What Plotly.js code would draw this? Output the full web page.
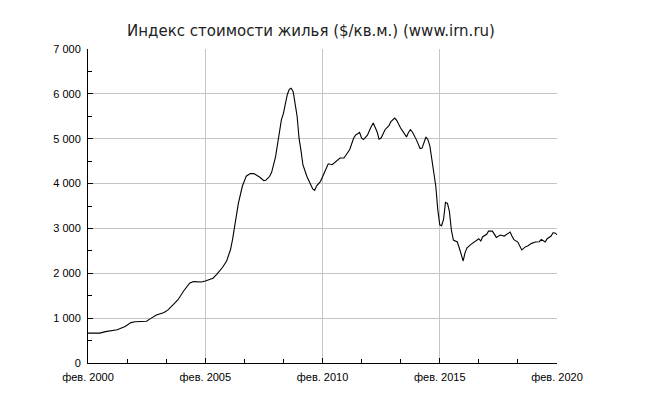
<!DOCTYPE html>
<html>
<head>
<meta charset="utf-8">
<script src="https://cdn.plot.ly/plotly-3.0.1.min.js"></script>
<style>html,body{margin:0;padding:0;background:#fff;}#chart{width:662px;height:397px;}</style>
</head>
<body>
<div id="chart"></div>
<script>
const dates = [
"2000-02","2000-08","2000-11","2001-05","2001-09","2001-12","2002-02","2002-08","2002-10","2003-01",
"2003-05","2003-07","2003-09","2003-12","2004-03","2004-06","2004-08","2004-12","2005-02","2005-06",
"2005-08","2005-11","2006-01","2006-03","2006-04","2006-05","2006-06","2006-07","2006-09","2006-11",
"2007-01","2007-03","2007-06","2007-08","2007-09","2007-11","2007-12","2008-02","2008-05","2008-06",
"2008-08","2008-09","2008-10","2008-11","2009-01","2009-02","2009-03","2009-04","2009-06","2009-09",
"2009-10","2009-11","2010-01","2010-02","2010-03","2010-05","2010-07","2010-09","2010-11","2011-01",
"2011-04","2011-06","2011-07","2011-09","2011-10","2011-11","2012-01","2012-03","2012-04","2012-06",
"2012-07","2012-08","2012-10","2012-12","2013-01","2013-03","2013-04","2013-06","2013-08","2013-09",
"2013-10","2013-11","2013-12","2014-02","2014-04","2014-05","2014-07","2014-08","2014-09","2014-10",
"2014-12","2015-01","2015-02","2015-03","2015-04","2015-05","2015-06","2015-07","2015-08","2015-09",
"2015-11","2015-12","2016-01","2016-02","2016-03","2016-04","2016-06","2016-07","2016-08","2016-10",
"2016-11","2016-12","2017-02","2017-03","2017-05","2017-06","2017-07","2017-09","2017-10","2017-11",
"2018-01","2018-02","2018-03","2018-04","2018-06","2018-07","2018-08","2018-10","2018-11","2019-01",
"2019-03","2019-05","2019-06","2019-08","2019-09","2019-11","2019-12","2020-01","2020-02"
];
const prices = [
667,667,700,740,815,900,920,930,990,1070,
1125,1185,1275,1405,1605,1780,1815,1805,1830,1890,
1980,2140,2280,2530,2750,3000,3320,3560,3940,4165,
4222,4222,4140,4067,4074,4163,4250,4600,5420,5560,
5980,6100,6126,6050,5500,5000,4750,4420,4163,3880,
3850,3950,4050,4150,4250,4440,4420,4500,4570,4570,
4760,5015,5080,5140,5015,4980,5080,5274,5350,5150,
4990,5015,5200,5290,5380,5460,5410,5240,5100,5040,
5140,5200,5150,4980,4780,4790,5037,4978,4830,4550,
3940,3420,3080,3060,3200,3580,3560,3380,2960,2740,
2700,2570,2400,2274,2460,2570,2645,2680,2720,2770,
2719,2815,2870,2940,2940,2880,2800,2852,2844,2830,
2890,2919,2830,2750,2696,2620,2519,2593,2607,2667,
2696,2704,2756,2696,2770,2830,2904,2900,2860
];
const xTickVals = ["2000-02-01","2005-02-01","2010-02-01","2015-02-01","2020-02-01"];
const xTickText = ["фев. 2000","фев. 2005","фев. 2010","фев. 2015","фев. 2020"];
const titleText = "Индекс стоимости жилья ($/кв.м.) (www.irn.ru)";

const trace = {
  x: dates, y: prices, type: "scatter", mode: "lines",
  line: {color: "#000000", width: 1.1}, hoverinfo: "skip"
};
const layout = {
  width: 662, height: 397,
  margin: {l: 88, r: 105, t: 49, b: 34},
  paper_bgcolor: "#ffffff", plot_bgcolor: "#ffffff",
  separators: ", ",
  showlegend: false,
  title: {text: titleText, x: 311/662, xref: "container", xanchor: "center", y: 1 - 31/397, yref: "container", yanchor: "middle",
          font: {family: "DejaVu Sans", size: 15, color: "#222222"}},
  xaxis: {
    type: "date", range: ["2000-02-01", "2020-02-01"],
    tickvals: xTickVals, ticktext: xTickText,
    showgrid: true, gridcolor: "#c4c4c4", gridwidth: 1,
    showline: true, linecolor: "#000000", linewidth: 1,
    ticks: "inside", ticklen: 5, tickcolor: "#000000",
    minor: {dtick: "M20", tick0: "2000-02-01", ticks: "inside", ticklen: 4, tickcolor: "#000000", showgrid: false},
    tickfont: {family: "Liberation Sans", size: 11, color: "#000000"},
    ticklabelstandoff: 4,
    zeroline: false, fixedrange: true
  },
  yaxis: {
    range: [0, 7000], tickvals: [0,1000,2000,3000,4000,5000,6000,7000],
    tickformat: ",d",
    showgrid: true, gridcolor: "#c4c4c4", gridwidth: 1,
    showline: true, linecolor: "#000000", linewidth: 1,
    ticks: "inside", ticklen: 5, tickcolor: "#000000",
    minor: {dtick: 500, tick0: 0, ticks: "inside", ticklen: 4, tickcolor: "#000000", showgrid: false},
    tickfont: {family: "Liberation Sans", size: 11, color: "#000000"},
    ticklabelstandoff: 4,
    zeroline: false, fixedrange: true
  }
};
Plotly.newPlot("chart", [trace], layout, {staticPlot: true, displayModeBar: false});
</script>
</body>
</html>
